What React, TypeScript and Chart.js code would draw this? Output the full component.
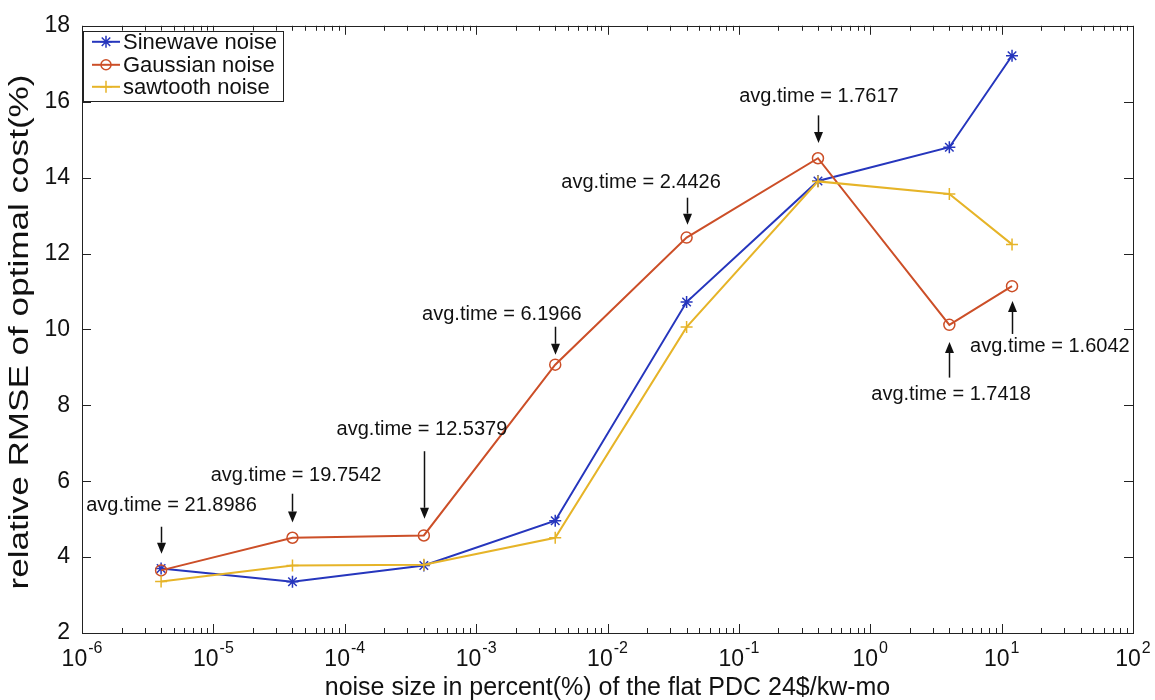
import React, { useEffect, useRef } from 'react';
import { Chart, registerables } from 'chart.js';

Chart.register(...registerables);

// ---- data ----
const noiseSizes = [4e-6, 4e-5, 4e-4, 4e-3, 0.04, 0.4, 4, 12];
const sinewaveNoise = [3.70, 3.35, 3.78, 4.96, 10.72, 13.91, 14.80, 17.21];
const gaussianNoise = [3.65, 4.51, 4.57, 9.07, 12.42, 14.51, 10.12, 11.14];
const sawtoothNoise = [3.36, 3.78, 3.80, 4.51, 10.06, 13.90, 13.57, 12.24];
const seriesNames = ['Sinewave noise', 'Gaussian noise', 'sawtooth noise'];
const xTickExponents = [-6, -5, -4, -3, -2, -1, 0, 1, 2];
const yTickValues = [2, 4, 6, 8, 10, 12, 14, 16, 18];
const xAxisTitle = 'noise size in percent(%) of the flat PDC 24$/kw-mo';
const yAxisTitle = 'relative RMSE of optimal cost(%)';

// annotation texts and their arrows (data coordinates)
const annotationLabels = [
  'avg.time = 21.8986',
  'avg.time = 19.7542',
  'avg.time = 12.5379',
  'avg.time = 6.1966',
  'avg.time = 2.4426',
  'avg.time = 1.7617',
  'avg.time = 1.7418',
  'avg.time = 1.6042',
];
const annotationTextX = [4.8e-6, 4.26e-5, 3.87e-4, 1.57e-3, 0.018, 0.407, 4.12, 23.3];
const annotationTextY = [5.35, 6.14, 7.37, 10.38, 13.86, 16.14, 8.28, 9.54];
const annotationArrowX = [4e-6, 4e-5, 4e-4, 4e-3, 0.04, 0.4, 4, 12];
const annotationArrowFrom = [4.80, 5.67, 6.79, 10.07, 13.47, 15.64, 8.73, 9.88];
const annotationArrowTo = [4.09, 4.91, 5.01, 9.33, 12.76, 14.91, 9.67, 10.75];

const COLORS = ['#2636bd', '#cc4f28', '#e6b428'];
const FONT = '"Liberation Sans", Arial, Helvetica, sans-serif';

function drawMarker(ctx: CanvasRenderingContext2D, style: string, x: number, y: number, r: number, color: string) {
  ctx.save();
  ctx.strokeStyle = color;
  ctx.lineWidth = 1.5;
  ctx.beginPath();
  if (style === 'star') {
    ctx.moveTo(x - r, y); ctx.lineTo(x + r, y);
    ctx.moveTo(x, y - r); ctx.lineTo(x, y + r);
    const d = r * 0.7071;
    ctx.moveTo(x - d, y - d); ctx.lineTo(x + d, y + d);
    ctx.moveTo(x - d, y + d); ctx.lineTo(x + d, y - d);
  } else if (style === 'circle') {
    ctx.arc(x, y, r, 0, Math.PI * 2);
  } else {
    ctx.moveTo(x - r, y); ctx.lineTo(x + r, y);
    ctx.moveTo(x, y - r); ctx.lineTo(x, y + r);
  }
  ctx.stroke();
  ctx.restore();
}

const decorPlugin = {
  id: 'matlabDecor',
  beforeDraw(chart: any) {
    const ctx = chart.ctx;
    ctx.save();
    ctx.fillStyle = '#ffffff';
    ctx.fillRect(0, 0, chart.width, chart.height);
    ctx.restore();
  },
  beforeDatasetsDraw(chart: any) {
    const ctx: CanvasRenderingContext2D = chart.ctx;
    const { left, right, top, bottom } = chart.chartArea;
    const xs = chart.scales.x;
    const ys = chart.scales.y;
    ctx.save();
    ctx.strokeStyle = '#222';
    ctx.lineWidth = 1;
    ctx.strokeRect(Math.round(left) + 0.5, Math.round(top) + 0.5, Math.round(right - left), Math.round(bottom - top));
    ctx.beginPath();
    // x ticks (major + minor), inside, top & bottom
    for (let e = -6; e <= 2; e++) {
      for (let m = 1; m <= 9; m++) {
        const v = m * Math.pow(10, e);
        if (v > 100 * 1.0001) break;
        const px = Math.round(xs.getPixelForValue(v)) + 0.5;
        const len = m === 1 ? 9 : 5;
        ctx.moveTo(px, bottom); ctx.lineTo(px, bottom - len);
        ctx.moveTo(px, top); ctx.lineTo(px, top + len);
      }
    }
    // y ticks
    for (const v of yTickValues) {
      const py = Math.round(ys.getPixelForValue(v)) + 0.5;
      ctx.moveTo(left, py); ctx.lineTo(left + 9, py);
      ctx.moveTo(right, py); ctx.lineTo(right - 9, py);
    }
    ctx.stroke();

    // x tick labels 10^e
    ctx.fillStyle = '#111';
    ctx.textBaseline = 'alphabetic';
    for (const e of xTickExponents) {
      const px = xs.getPixelForValue(Math.pow(10, e));
      ctx.font = `23px ${FONT}`;
      const baseW = ctx.measureText('10').width;
      ctx.font = `16px ${FONT}`;
      const expText = String(e);
      const expW = ctx.measureText(expText).width;
      const total = baseW + expW + 1;
      const x0 = px - total / 2;
      ctx.font = `23px ${FONT}`;
      ctx.textAlign = 'left';
      ctx.fillText('10', x0, 666);
      ctx.font = `16px ${FONT}`;
      ctx.fillText(expText, x0 + baseW + 1, 653);
    }
    // x axis title
    ctx.font = `25px ${FONT}`;
    ctx.textAlign = 'center';
    ctx.fillText(xAxisTitle, (left + right) / 2, 695);

    // y axis title (rotated, stretched along its length like the reference)
    ctx.save();
    ctx.translate(21, 332);
    ctx.rotate(-Math.PI / 2);
    ctx.font = `27px ${FONT}`;
    const w = ctx.measureText(yAxisTitle).width;
    const targetW = 515;
    ctx.scale(targetW / w, 1);
    ctx.textAlign = 'center';
    ctx.textBaseline = 'middle';
    ctx.fillText(yAxisTitle, 0, 0);
    ctx.restore();
    ctx.restore();
  },
  afterDatasetsDraw(chart: any) {
    const ctx: CanvasRenderingContext2D = chart.ctx;
    const xs = chart.scales.x;
    const ys = chart.scales.y;
    ctx.save();
    ctx.fillStyle = '#111';
    ctx.strokeStyle = '#111';
    ctx.font = `20px ${FONT}`;
    ctx.textAlign = 'center';
    ctx.textBaseline = 'middle';
    annotationLabels.forEach((label, i) => {
      const tx = xs.getPixelForValue(annotationTextX[i]);
      const ty = ys.getPixelForValue(annotationTextY[i]);
      ctx.fillText(label, tx, ty);
      const ax = Math.round(xs.getPixelForValue(annotationArrowX[i])) + 0.5;
      const y1 = ys.getPixelForValue(annotationArrowFrom[i]);
      const y2 = ys.getPixelForValue(annotationArrowTo[i]);
      const dir = y2 > y1 ? 1 : -1;
      const head = 11;
      ctx.lineWidth = 1.5;
      ctx.beginPath();
      ctx.moveTo(ax, y1);
      ctx.lineTo(ax, y2 - dir * head);
      ctx.stroke();
      ctx.beginPath();
      ctx.moveTo(ax, y2);
      ctx.lineTo(ax - 4.5, y2 - dir * head);
      ctx.lineTo(ax + 4.5, y2 - dir * head);
      ctx.closePath();
      ctx.fill();
    });
    ctx.restore();
  },
  afterDraw(chart: any) {
    const ctx: CanvasRenderingContext2D = chart.ctx;
    const { left, top } = chart.chartArea;
    const bx = left + 1;
    const by = top + 5;
    const bw = 200;
    const bh = 70;
    ctx.save();
    ctx.fillStyle = '#fff';
    ctx.fillRect(bx, by, bw, bh);
    ctx.strokeStyle = '#222';
    ctx.lineWidth = 1;
    ctx.strokeRect(Math.round(bx) + 0.5, Math.round(by) + 0.5, bw, bh);
    const styles = ['star', 'circle', 'cross'];
    const rowY = [by + 11, by + 34, by + 56];
    ctx.font = `22px ${FONT}`;
    ctx.textAlign = 'left';
    ctx.textBaseline = 'middle';
    seriesNames.forEach((name, i) => {
      const y = rowY[i];
      ctx.strokeStyle = COLORS[i];
      ctx.lineWidth = 2;
      ctx.beginPath();
      ctx.moveTo(bx + 9, y);
      ctx.lineTo(bx + 37, y);
      ctx.stroke();
      drawMarker(ctx, styles[i], bx + 23, y, i === 1 ? 5 : 6, COLORS[i]);
      ctx.fillStyle = '#111';
      ctx.fillText(name, bx + 40, y + 1);
    });
    ctx.restore();
  },
};

export default function App() {
  const canvasRef = useRef<HTMLCanvasElement | null>(null);

  useEffect(() => {
    document.body.style.margin = '0';
    const canvas = canvasRef.current;
    if (!canvas) return;
    const toPoints = (vals: number[]) => noiseSizes.map((x, i) => ({ x, y: vals[i] }));
    const chart = new Chart(canvas, {
      type: 'line',
      data: {
        datasets: [
          {
            label: seriesNames[0],
            data: toPoints(sinewaveNoise),
            borderColor: COLORS[0],
            backgroundColor: COLORS[0],
            borderWidth: 2,
            pointStyle: 'star',
            pointRadius: 6,
            pointBorderWidth: 1.5,
            pointBorderColor: COLORS[0],
            tension: 0,
            order: 3,
          },
          {
            label: seriesNames[1],
            data: toPoints(gaussianNoise),
            borderColor: COLORS[1],
            backgroundColor: 'rgba(0,0,0,0)',
            borderWidth: 2,
            pointStyle: 'circle',
            pointRadius: 5.5,
            pointBorderWidth: 1.5,
            pointBorderColor: COLORS[1],
            pointBackgroundColor: 'rgba(0,0,0,0)',
            tension: 0,
            order: 2,
          },
          {
            label: seriesNames[2],
            data: toPoints(sawtoothNoise),
            borderColor: COLORS[2],
            backgroundColor: COLORS[2],
            borderWidth: 2,
            pointStyle: 'cross',
            pointRadius: 6,
            pointBorderWidth: 1.5,
            pointBorderColor: COLORS[2],
            tension: 0,
            order: 1,
          },
        ],
      },
      options: {
        animation: false,
        responsive: false,
        maintainAspectRatio: false,
        devicePixelRatio: 1,
        layout: { padding: { top: 22, right: 22, left: 0, bottom: 0 } },
        plugins: {
          legend: { display: false },
          tooltip: { enabled: false },
        },
        scales: {
          x: {
            type: 'logarithmic',
            min: 1e-6,
            max: 100,
            ticks: { display: false },
            grid: { display: false, drawTicks: false },
            border: { display: false },
            afterFit: (scale: any) => { scale.height = 67; },
          },
          y: {
            type: 'linear',
            min: 2,
            max: 18,
            ticks: {
              stepSize: 2,
              color: '#111',
              padding: 12,
              font: { family: FONT, size: 23 },
            },
            grid: { display: false, drawTicks: false },
            border: { display: false },
            title: { display: false },
            afterFit: (scale: any) => { scale.width = 82; },
          },
        },
      },
      plugins: [decorPlugin],
    });
    return () => chart.destroy();
  }, []);

  return (
    <div style={{ width: 1155, height: 700 }}>
      <canvas ref={canvasRef} width={1155} height={700} style={{ display: 'block' }} />
    </div>
  );
}
